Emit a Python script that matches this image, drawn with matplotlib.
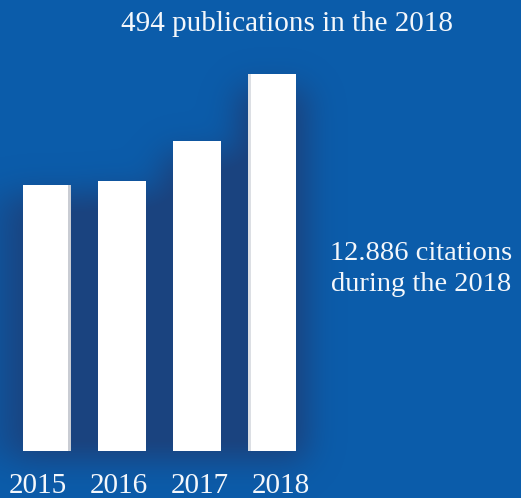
"""Publications per year, white bars on a blue panel."""
import numpy as np
import matplotlib
matplotlib.use("Agg")
import matplotlib.pyplot as plt
from matplotlib.colors import to_rgb

years = ["2015", "2016", "2017", "2018"]
publications = [349, 354, 406, 494]
headline = "494 publications in the 2018"
citations_note = "12.886 citations\nduring the 2018"

BG = "#0b5caa"
SHADOW = "#1d3f78"
INK = "#f4f7fb"
SIDE = "#c9ccd3"
W, H, DPI = 521, 498, 100

# pixel geometry: bar i sits at x = 47 + 75 i, baseline at 451 px from top
PX_PER_BAR = 75.0
UNITS_PER_PX = publications[-1] / 377.0
xlim = (-47 / PX_PER_BAR, (W - 47) / PX_PER_BAR)
ylim = (-47 * UNITS_PER_PX, (H - 47) * UNITS_PER_PX)
bar_w = 0.64


def gauss_matrix(n, sigma):
    idx = np.arange(n)
    g = np.exp(-0.5 * ((idx[:, None] - idx[None, :]) / sigma) ** 2)
    return g / g.sum(axis=1, keepdims=True)


fig = plt.figure(figsize=(W / DPI, H / DPI), dpi=DPI, facecolor=BG)
ax = fig.add_axes([0, 0, 1, 1])
ax.set_facecolor(BG)
ax.set_xlim(*xlim)
ax.set_ylim(*ylim)
ax.axis("off")

# soft dark halo behind the bar group
xs = np.linspace(xlim[0], xlim[1], W)
ys = np.linspace(ylim[0], ylim[1], H)
X, Y = np.meshgrid(xs, ys)
mask = np.zeros_like(X)
for i, v in enumerate(publications):
    inside = (np.abs(X - i) < bar_w / 2 + 0.14) & (Y < v * 0.96) & (Y > -8 * UNITS_PER_PX)
    mask[inside] = 1.0
# fill gaps between neighbouring bars up to the lower one's height
for i in range(len(publications) - 1):
    lo = min(publications[i], publications[i + 1]) * 0.95
    gap = (X > i) & (X < i + 1) & (Y < lo) & (Y > -8 * UNITS_PER_PX)
    mask[gap] = 1.0
blur = gauss_matrix(H, 16) @ mask @ gauss_matrix(W, 16).T
alpha = np.clip(blur * 1.15, 0, 1) * 0.85
rgba = np.zeros((H, W, 4))
rgba[..., :3] = to_rgb(SHADOW)
rgba[..., 3] = alpha
ax.imshow(rgba, extent=(*xlim, *ylim), origin="lower", aspect="auto",
          interpolation="bilinear", zorder=1)

x = np.arange(len(years))
ax.bar(x, publications, width=bar_w, color="white", edgecolor="none", zorder=3)
# narrow side faces give the columns a little depth
side = 3 / PX_PER_BAR
ax.bar(x[0] + bar_w / 2 - side / 2, publications[0], width=side, color=SIDE,
       edgecolor="none", zorder=4)
ax.bar(x[-1] - bar_w / 2 + side / 2, publications[-1], width=side, color="#dcdfe4",
       edgecolor="none", zorder=4)

serif = ["Liberation Serif", "DejaVu Serif"]
# year labels fan out slightly wider than the bars
for i, (xi, label) in enumerate(zip(x, years)):
    dx = (i - 1.5) * 4.3
    ax.annotate(label, (xi, 0), xytext=(dx, -25.2), textcoords="offset points",
                ha="center", va="center", fontsize=21, color=INK, family=serif)

fig.text(287 / W, 1 - 24 / H, headline, ha="center", va="center",
         fontsize=21, color=INK, family=serif)
fig.text(421 / W, 1 - 269 / H, citations_note, ha="center", va="center",
         fontsize=20.5, color=INK, family=serif, linespacing=1.35)

fig.savefig("out.png", dpi=DPI, facecolor=BG)
